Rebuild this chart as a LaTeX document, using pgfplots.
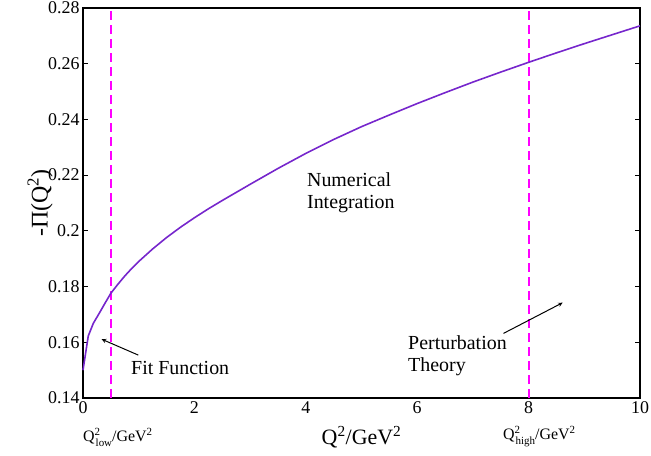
\documentclass[border=0pt]{standalone}
\usepackage{fontspec}
\setmainfont{Liberation Serif}
\usepackage{pgfplots}
\pgfplotsset{compat=1.18}
\definecolor{curve}{RGB}{118,38,204}
\definecolor{mag}{RGB}{255,0,255}
\newcommand{\sps}[1]{\raisebox{6bp}{\fontsize{11}{11}\selectfont #1}}
\newcommand{\sbs}[1]{\raisebox{-5bp}{\fontsize{11}{11}\selectfont #1}}
\begin{document}
\begin{tikzpicture}
\useasboundingbox (-83bp,-58bp) rectangle (568bp,398bp);
\begin{axis}[
  scale only axis, width=557bp, height=390bp,
  xmin=0, xmax=10, ymin=0.14, ymax=0.28,
  xtick={0,2,...,10}, ytick={0.14,0.16,...,0.28},
  yticklabels={0.14,0.16,0.18,0.2,0.22,0.24,0.26,0.28},
  /pgf/number format/assume math mode=true,
  tick label style={font=\fontsize{18}{20}\selectfont},
  every tick/.style={black, line width=0.8pt},
  x tick style={draw=none},
  major tick length=5bp,
  axis line style={line width=1.2pt},
  clip=false,
  xlabel={Q\textsuperscript{2}/GeV\textsuperscript{2}},
  xlabel style={font=\fontsize{22}{24}\selectfont, at={(axis description cs:0.5,0)}, anchor=center, yshift=-39bp},
  ylabel={-Π(Q\textsuperscript{2})},
  ylabel style={font=\fontsize{24}{26}\selectfont, at={(axis description cs:-0.077,0.5)}, anchor=center},
]
\addplot[mag, line width=1.8pt, dash pattern=on 9bp off 5bp] coordinates {(0.5,0.14) (0.5,0.28)};
\addplot[mag, line width=1.8pt, dash pattern=on 9bp off 5bp] coordinates {(8,0.14) (8,0.28)};
\addplot[curve, line width=1.6pt, line join=round] coordinates {
(0,0.150) (0.095,0.1623) (0.185,0.1668) (0.3,0.1707) (0.4,0.1742) (0.5,0.1776) (0.625,0.1808) (0.75,0.1838)
(0.875,0.1865) (1,0.1890) (1.25,0.1935) (1.5,0.1976) (1.75,0.2013) (2,0.2047) (2.25,0.2079) (2.5,0.2109)
(2.75,0.2138) (3,0.2167) (3.5,0.2224) (4,0.2278) (4.5,0.2328) (5,0.2374) (5.5,0.2416) (6,0.2457)
(6.5,0.2496) (7,0.2534) (7.5,0.2570) (8,0.2605) (8.5,0.2639) (9,0.2672) (9.5,0.2704) (10,0.2736)};
\node[anchor=west, align=left, inner sep=0pt, font=\fontsize{20}{22}\selectfont] at (axis cs:4.02,0.2136) {Numerical\\Integration};
\node[anchor=west, inner sep=0pt, font=\fontsize{20}{22}\selectfont] at (axis cs:0.862,0.1508) {Fit Function};
\node[anchor=west, align=left, inner sep=0pt, font=\fontsize{20}{22}\selectfont] at (axis cs:5.835,0.1551) {Perturbation\\Theory};
\draw[-stealth, line width=1pt] (axis cs:0.993,0.1554) -- (axis cs:0.336,0.1611);
\draw[-stealth, line width=1pt] (axis cs:7.55,0.1632) -- (axis cs:8.61,0.1742);
\node[anchor=west, font=\fontsize{16}{18}\selectfont, inner sep=0pt] at ([yshift=-39bp]axis cs:0,0.14) {Q\rlap{\sps{2}}\hspace{1bp}\sbs{low}/GeV\sps{2}};
\node[anchor=west, font=\fontsize{16}{18}\selectfont, inner sep=0pt] at ([yshift=-39bp]axis cs:7.54,0.14) {Q\rlap{\sps{2}}\hspace{1bp}\sbs{high}/GeV\sps{2}};
\end{axis}
\end{tikzpicture}
\end{document}
